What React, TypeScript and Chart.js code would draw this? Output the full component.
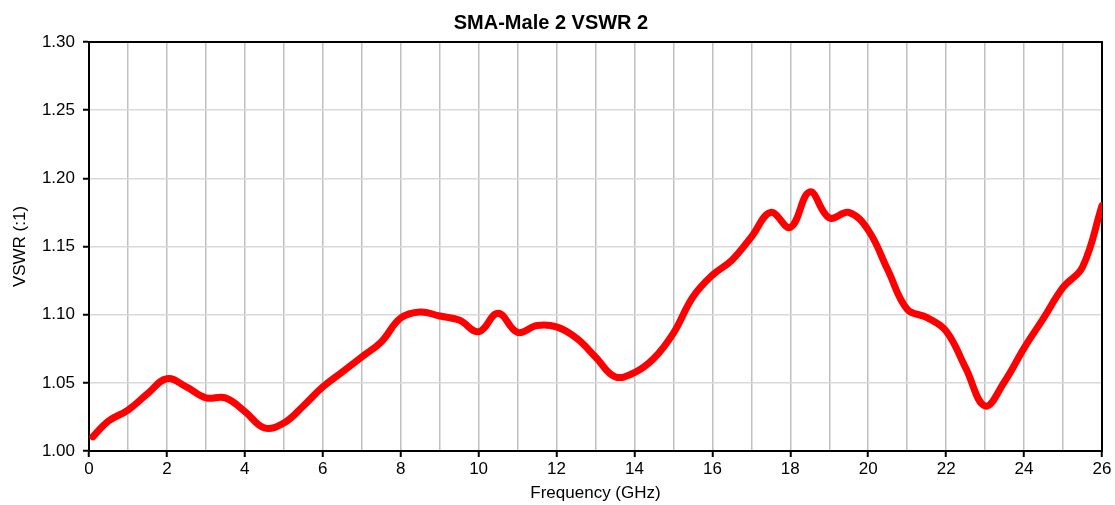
import React, { useEffect, useRef } from "react";
import { Chart, registerables } from "chart.js";

Chart.register(...registerables);

const TITLE = "SMA-Male 2 VSWR 2";
const X_TITLE = "Frequency (GHz)";
const Y_TITLE = "VSWR (:1)";

const freqGHz = [
  0.1, 0.5, 1.0, 1.5, 2.0, 2.5, 3.0, 3.5, 4.0, 4.5, 5.0, 5.5, 6.0, 6.5, 7.0, 7.5,
  8.0, 8.5, 9.0, 9.5, 10.0, 10.5, 11.0, 11.5, 12.0, 12.5, 13.0, 13.5, 14.0, 14.5,
  15.0, 15.5, 16.0, 16.5, 17.0, 17.5, 18.0, 18.5, 19.0, 19.5, 20.0, 20.5, 21.0,
  21.5, 22.0, 22.5, 23.0, 23.5, 24.0, 24.5, 25.0, 25.5, 26.0,
];

const vswr = [
  1.0105, 1.022, 1.03, 1.042, 1.053, 1.047, 1.039, 1.039, 1.029, 1.017, 1.0205,
  1.033, 1.047, 1.058, 1.069, 1.08, 1.0975, 1.102, 1.099, 1.096, 1.0875, 1.101,
  1.087, 1.092, 1.091, 1.083, 1.069, 1.0545, 1.0575, 1.068, 1.0865, 1.113, 1.129,
  1.14, 1.157, 1.175, 1.164, 1.19, 1.171, 1.175, 1.162, 1.133, 1.104, 1.098,
  1.088, 1.061, 1.033, 1.051, 1.0755, 1.0975, 1.12, 1.135, 1.18,
];

const X_MIN = 0;
const X_MAX = 26;
const Y_MIN = 1.0;
const Y_MAX = 1.3;

const FONT = "'Liberation Sans', Arial, sans-serif";

const frameBorder = {
  id: "frameBorder",
  beforeDatasetsDraw(chart: any) {
    const { ctx, chartArea } = chart;
    ctx.save();
    ctx.strokeStyle = "#000";
    ctx.lineWidth = 2;
    ctx.strokeRect(
      chartArea.left,
      chartArea.top,
      chartArea.right - chartArea.left,
      chartArea.bottom - chartArea.top
    );
    ctx.restore();
  },
};

export default function App() {
  const canvasRef = useRef<HTMLCanvasElement | null>(null);

  useEffect(() => {
    if (!canvasRef.current) return;
    const points = freqGHz.map((f, i) => ({ x: f, y: vswr[i] }));
    const chart = new Chart(canvasRef.current, {
      type: "line",
      data: {
        datasets: [
          {
            label: "VSWR",
            data: points,
            borderColor: "#ff0000",
            borderWidth: 7,
            pointRadius: 0,
            tension: 0.4,
            cubicInterpolationMode: "default",
            fill: false,
            borderCapStyle: "round",
            borderJoinStyle: "round",
          },
        ],
      },
      options: {
        animation: false,
        responsive: true,
        maintainAspectRatio: false,
        layout: { padding: { left: 0, right: 13, top: 0, bottom: 0 } },
        plugins: {
          legend: { display: false },
          tooltip: { enabled: false },
          title: {
            display: true,
            text: TITLE,
            color: "#000",
            font: { family: FONT, size: 20, weight: "bold", lineHeight: 1.2 },
            padding: { top: 11, bottom: 7 },
          },
        },
        scales: {
          x: {
            type: "linear",
            min: X_MIN,
            max: X_MAX,
            afterFit(scale: any) {
              scale.height = 54;
            },
            border: { display: true, color: "#000", width: 2 },
            grid: {
              color: "#c0c0c0",
              lineWidth: 1.5,
              tickLength: 6,
              tickWidth: 2,
              tickColor: (ctx: any) =>
                ctx.tick && Math.round(ctx.tick.value) % 2 === 0
                  ? "#000"
                  : "rgba(0,0,0,0)",
            },
            ticks: {
              stepSize: 1,
              autoSkip: false,
              maxRotation: 0,
              color: "#000",
              padding: 2,
              font: { family: FONT, size: 17 },
              callback: (v: any) => (Math.round(v) % 2 === 0 ? String(v) : ""),
            },
            title: {
              display: true,
              text: X_TITLE,
              color: "#000",
              font: { family: FONT, size: 17 },
              padding: { top: 0, bottom: 1 },
            },
          },
          y: {
            type: "linear",
            min: Y_MIN,
            max: Y_MAX,
            afterFit(scale: any) {
              scale.width = 89;
            },
            border: { display: true, color: "#000", width: 2 },
            grid: {
              color: "#d9d9d9",
              lineWidth: 1.5,
              tickLength: 6,
              tickWidth: 2,
              tickColor: "#000",
            },
            ticks: {
              stepSize: 0.05,
              color: "#000",
              padding: 8,
              font: { family: FONT, size: 17 },
              callback: (v: any) => Number(v).toFixed(2),
            },
            title: {
              display: true,
              text: Y_TITLE,
              color: "#000",
              font: { family: FONT, size: 17 },
              padding: { top: 10, bottom: 0 },
            },
          },
        },
      },
      plugins: [frameBorder],
    });
    return () => chart.destroy();
  }, []);

  return (
    <div
      style={{
        position: "fixed",
        left: 0,
        top: 0,
        width: 1115,
        height: 505,
        background: "#fff",
      }}
    >
      <canvas ref={canvasRef} />
    </div>
  );
}
